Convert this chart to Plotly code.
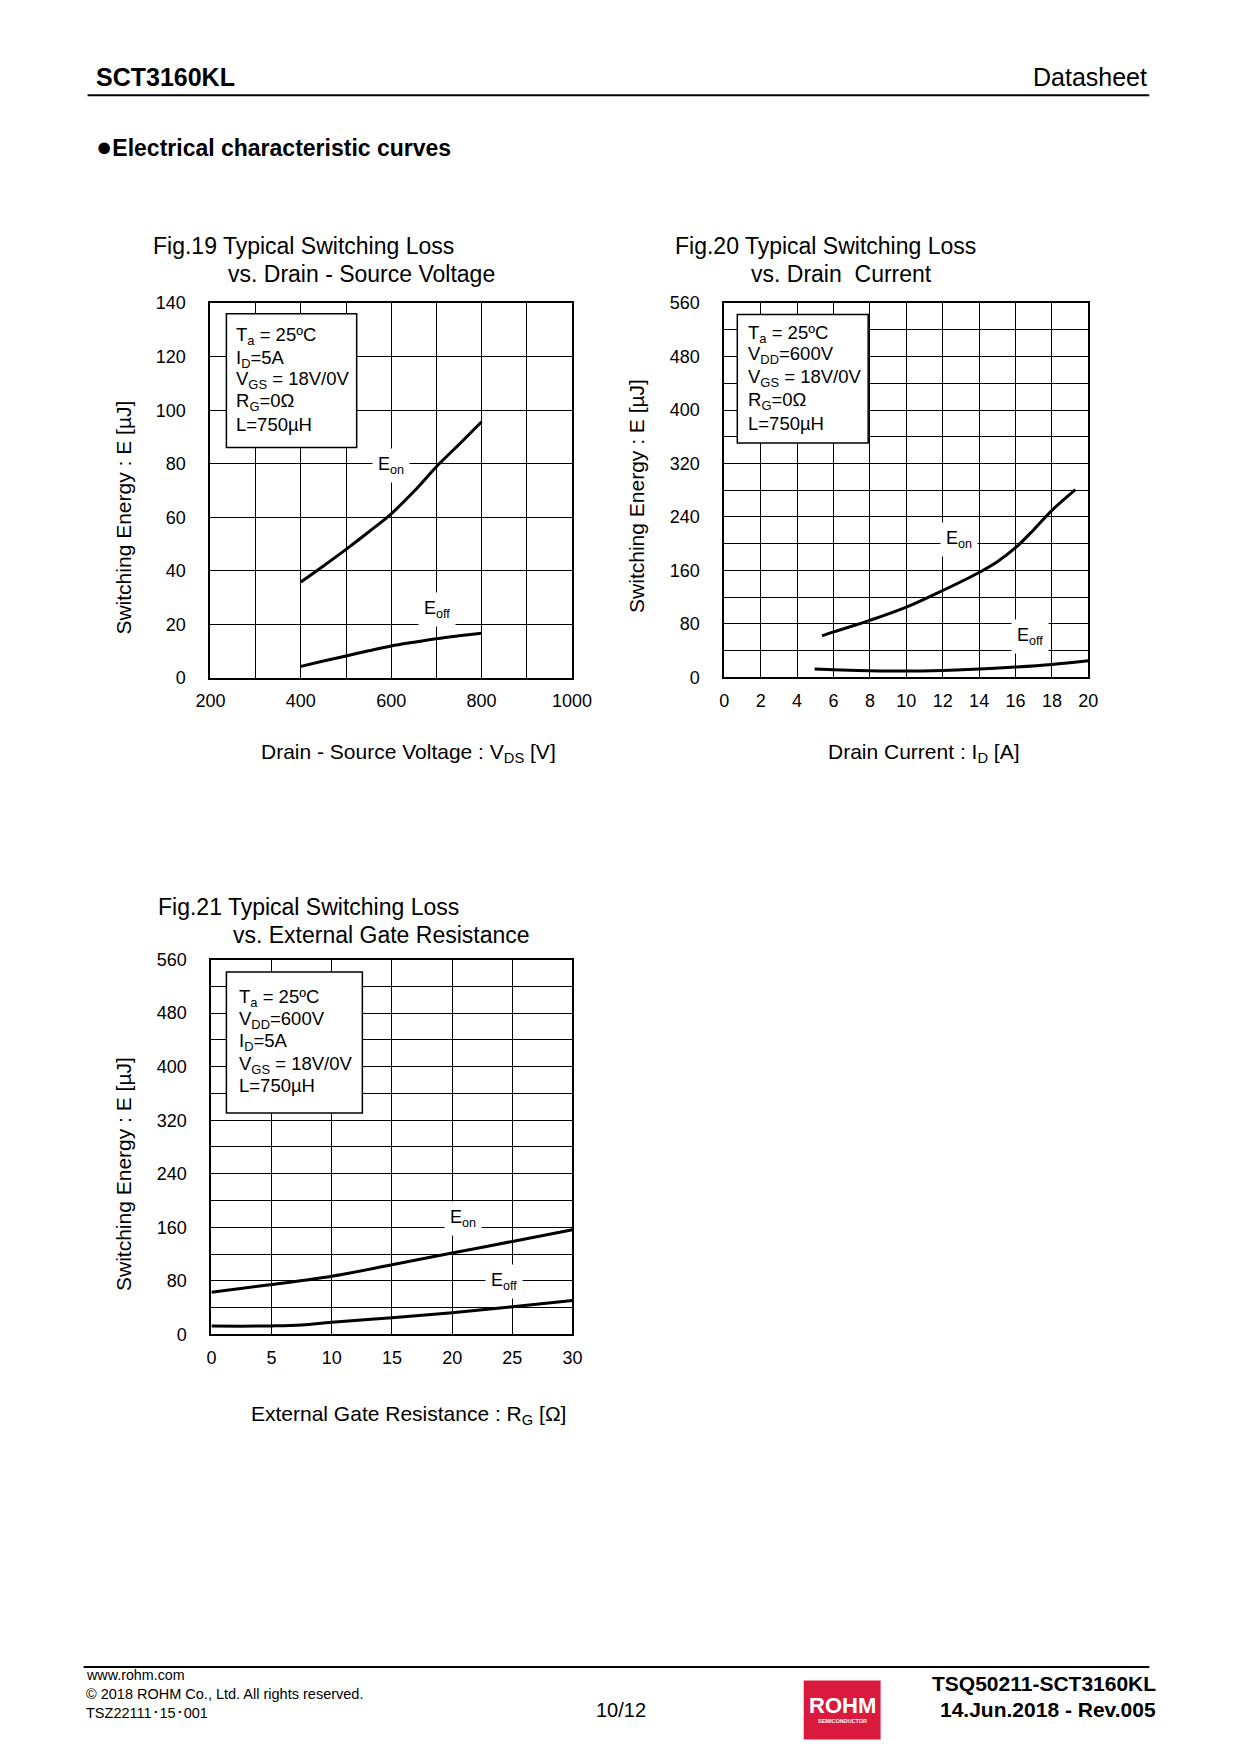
import plotly.graph_objects as go

W, H = 1240, 1754
FONT = "Liberation Sans, Arial, Helvetica, sans-serif"

# ---------------- data ----------------
# Fig.19 : switching energy vs drain-source voltage
fig19_vds = [400, 450, 500, 550, 600, 650, 700, 750, 800]
fig19_eon = [35.8, 41.8, 48.0, 54.5, 61.3, 69.6, 78.9, 87.2, 95.7]
fig19_eoff = [4.3, 6.3, 8.2, 10.1, 11.9, 13.3, 14.6, 15.7, 16.7]
fig19_xticks = [200, 300, 400, 500, 600, 700, 800, 900, 1000]
fig19_xlabels = ["200", "", "400", "", "600", "", "800", "", "1000"]
fig19_yticks = [0, 20, 40, 60, 80, 100, 120, 140]
fig19_ylabels = ["0", "20", "40", "60", "80", "100", "120", "140"]

# Fig.20 : switching energy vs drain current
fig20_id_on = [5.37, 6, 8, 10, 12, 14, 15, 16, 17, 18, 19.29]
fig20_eon = [62, 68, 85.3, 105, 130, 157, 173, 194, 221, 250, 281]
fig20_id_off = [4.96, 6, 8, 10, 12, 14, 16, 18, 20]
fig20_eoff = [12.4, 11.4, 9.9, 9.4, 10.4, 12.4, 15.4, 19.3, 24.8]
fig20_xticks = [0, 2, 4, 6, 8, 10, 12, 14, 16, 18, 20]
fig20_xlabels = ["0", "2", "4", "6", "8", "10", "12", "14", "16", "18", "20"]
fig20_yticks = [0, 40, 80, 120, 160, 200, 240, 280, 320, 360, 400, 440, 480, 520, 560]
fig20_ylabels = ["0", "", "80", "", "160", "", "240", "", "320", "", "400", "", "480", "", "560"]

# Fig.21 : switching energy vs external gate resistance
fig21_rg_on = [0, 5, 10, 15, 20, 25, 30]
fig21_eon = [63, 74.4, 86.8, 104, 121.5, 138.8, 156.2]
fig21_rg_off = [0, 2.5, 5, 7.5, 10, 15, 20, 25, 30]
fig21_eoff = [12.4, 12.2, 12.6, 14.0, 18.0, 24.8, 32.2, 41.1, 50.6]
fig21_xticks = [0, 5, 10, 15, 20, 25, 30]
fig21_xlabels = ["0", "5", "10", "15", "20", "25", "30"]
fig21_yticks = fig20_yticks
fig21_ylabels = fig20_ylabels

# condition texts
fig19_cond = ["T<sub>a</sub> = 25ºC", "I<sub>D</sub>=5A", "V<sub>GS</sub> = 18V/0V", "R<sub>G</sub>=0Ω", "L=750µH"]
fig20_cond = ["T<sub>a</sub> = 25ºC", "V<sub>DD</sub>=600V", "V<sub>GS</sub> = 18V/0V", "R<sub>G</sub>=0Ω", "L=750µH"]
fig21_cond = ["T<sub>a</sub> = 25ºC", "V<sub>DD</sub>=600V", "I<sub>D</sub>=5A", "V<sub>GS</sub> = 18V/0V", "L=750µH"]

# page placement (the photographed page is slightly scaled; compensate)
SX, OX, SY, OY = 0.973, 13.3, 0.9894, 7.6


def fx(px):
    return ((px - OX) / SX) / W


def fy(py):
    return 1 - ((py - OY) / SY) / H


fig = go.Figure()

line_style = dict(color="black", width=3, shape="spline", smoothing=1.0)
fig.add_trace(go.Scatter(x=fig19_vds, y=fig19_eon, mode="lines", line=line_style, xaxis="x", yaxis="y"))
fig.add_trace(go.Scatter(x=fig19_vds, y=fig19_eoff, mode="lines", line=line_style, xaxis="x", yaxis="y"))
fig.add_trace(go.Scatter(x=fig20_id_on, y=fig20_eon, mode="lines", line=line_style, xaxis="x2", yaxis="y2"))
fig.add_trace(go.Scatter(x=fig20_id_off, y=fig20_eoff, mode="lines", line=line_style, xaxis="x2", yaxis="y2"))
fig.add_trace(go.Scatter(x=fig21_rg_on, y=fig21_eon, mode="lines", line=line_style, xaxis="x3", yaxis="y3"))
fig.add_trace(go.Scatter(x=fig21_rg_off, y=fig21_eoff, mode="lines", line=line_style, xaxis="x3", yaxis="y3"))


def axis(domain, rng, tickvals, ticktext, anchor, is_x):
    return dict(
        domain=domain, range=rng, tickmode="array", tickvals=tickvals, ticktext=ticktext,
        showgrid=True, gridcolor="black", gridwidth=1, showline=True, linecolor="black",
        linewidth=2, mirror=True, ticks="", zeroline=False, anchor=anchor, fixedrange=True,
        tickfont=dict(family=FONT, size=18, color="black"),
        ticklabelstandoff=6 if is_x else 19,
    )


fig.update_layout(
    width=W, height=H, margin=dict(l=0, r=0, t=0, b=0),
    paper_bgcolor="white", plot_bgcolor="white", showlegend=False,
    xaxis=axis([fx(209), fx(571)], [200, 1000], fig19_xticks, fig19_xlabels, "y", True),
    yaxis=axis([fy(676), fy(301)], [0, 140], fig19_yticks, fig19_ylabels, "x", False),
    xaxis2=axis([fx(723.5), fx(1088)], [0, 20], fig20_xticks, fig20_xlabels, "y2", True),
    yaxis2=axis([fy(675.5), fy(301)], [0, 560], fig20_yticks, fig20_ylabels, "x2", False),
    xaxis3=axis([fx(210), fx(571.5)], [0, 30], fig21_xticks, fig21_xlabels, "y3", True),
    yaxis3=axis([fy(1333), fy(958)], [0, 560], fig21_yticks, fig21_ylabels, "x3", False),
)

ann = []
shapes = []


def text(px, py, s, size, xanchor="left", bold=False, angle=0, color="black"):
    ann.append(dict(
        xref="paper", yref="paper", x=fx(px), y=fy(py), text=("<b>%s</b>" % s) if bold else s,
        showarrow=False, xanchor=xanchor, yanchor="middle", textangle=angle,
        font=dict(family=FONT, size=size, color=color), borderpad=0,
    ))


# header
text(93, 75, "SCT3160KL", 25, bold=True)
text(1148, 75, "Datasheet", 25, xanchor="right")
shapes.append(dict(type="line", xref="paper", yref="paper", x0=fx(86), x1=fx(1149), y0=fy(93), y1=fy(93),
                   line=dict(color="black", width=2)))
text(93, 145, "<span style='font-size:27px'>●</span>Electrical characteristic curves", 23, bold=True)

# figure titles
text(150, 243.5, "Fig.19 Typical Switching Loss", 23)
text(226, 271.5, "vs. Drain - Source Voltage", 23)
text(673, 243.5, "Fig.20 Typical Switching Loss", 23)
text(749, 271.5, "vs. Drain  Current", 23)
text(155, 905, "Fig.21 Typical Switching Loss", 23)
text(231, 933, "vs. External Gate Resistance", 23)

# axis titles
text(407, 751, "Drain - Source Voltage : V<sub>DS</sub> [V]", 21, xanchor="center")
text(923, 751, "Drain Current : I<sub>D</sub> [A]", 21, xanchor="center")
text(407, 1414, "External Gate Resistance : R<sub>G</sub> [Ω]", 21, xanchor="center")
text(122, 516, "Switching Energy : E [µJ]", 21, xanchor="center", angle=-90)
text(635, 494, "Switching Energy : E [µJ]", 21, xanchor="center", angle=-90)
text(122, 1173, "Switching Energy : E [µJ]", 21, xanchor="center", angle=-90)

# condition boxes, positioned relative to each plot frame
boxes = [
    ("x", "y", (0.0441, 0.4044, 0.0285, 0.3852), 0.0689, [0.0901, 0.1499, 0.2068, 0.2666, 0.3254], fig19_cond),
    ("x2", "y2", (0.0357, 0.3952, 0.0305, 0.3737), 0.0613, [0.0839, 0.1411, 0.2002, 0.2622, 0.3222], fig20_cond),
    ("x3", "y3", (0.0414, 0.4180, 0.0333, 0.4091), 0.0746, [0.1028, 0.1627, 0.2217, 0.2816, 0.3387], fig21_cond),
]
for xa, ya, (bx0, bx1, by0, by1), tx, tys, lines in boxes:
    shapes.append(dict(type="rect", xref=xa + " domain", yref=ya + " domain", x0=bx0, x1=bx1,
                       y0=1 - by1, y1=1 - by0, fillcolor="white",
                       line=dict(color="black", width=1.5), layer="above"))
    for ty, s in zip(tys, lines):
        ann.append(dict(xref=xa + " domain", yref=ya + " domain", x=tx, y=1 - ty + 0.0015, text=s,
                        showarrow=False, xanchor="left", yanchor="middle", borderpad=0,
                        font=dict(family=FONT, size=18.5, color="black")))


# curve labels (white background breaks the grid)
def curve_label(xref, yref, x, y, s):
    ann.append(dict(xref=xref, yref=yref, x=x, y=y, text=s, showarrow=False, xanchor="center",
                    yanchor="middle", font=dict(family=FONT, size=18, color="black"),
                    bgcolor="white", borderpad=5))


curve_label("x", "y", 600, 79.5, "E<sub>on</sub>")
curve_label("x", "y", 702, 25.5, "E<sub>off</sub>")
curve_label("x2", "y2", 12.87, 206, "E<sub>on</sub>")
curve_label("x2", "y2", 16.8, 61, "E<sub>off</sub>")
curve_label("x3", "y3", 20.9, 173, "E<sub>on</sub>")
curve_label("x3", "y3", 24.3, 79, "E<sub>off</sub>")

# footer
shapes.append(dict(type="line", xref="paper", yref="paper", x0=fx(82), x1=fx(1149), y0=fy(1666), y1=fy(1666),
                   line=dict(color="black", width=2)))
text(83, 1674, "www.rohm.com", 14.3)
text(83, 1693, "© 2018 ROHM Co., Ltd. All rights reserved.", 14.5)
text(83, 1712, "TSZ22111･15･001", 14.5)
text(620.5, 1708.5, "10/12", 20, xanchor="center")
text(1157, 1682, "TSQ50211-SCT3160KL", 21, xanchor="right", bold=True)
text(1157, 1708.5, "14.Jun.2018 - Rev.005", 21, xanchor="right", bold=True)
shapes.append(dict(type="rect", xref="paper", yref="paper", x0=fx(803), x1=fx(880), y0=fy(1738.6), y1=fy(1679.4),
                   fillcolor="#DA1A3C", line=dict(width=0), layer="above"))
text(841.5, 1704, "ROHM", 22, xanchor="center", bold=True, color="white")
text(841.5, 1720, "SEMICONDUCTOR", 5.5, xanchor="center", bold=True, color="white")

fig.update_layout(annotations=ann, shapes=shapes)
fig.write_html(
    "out.html",
    config={"displayModeBar": False},
    post_script="document.body.style.margin='0';document.body.style.overflow='hidden';"
                "document.documentElement.style.overflow='hidden';",
)
